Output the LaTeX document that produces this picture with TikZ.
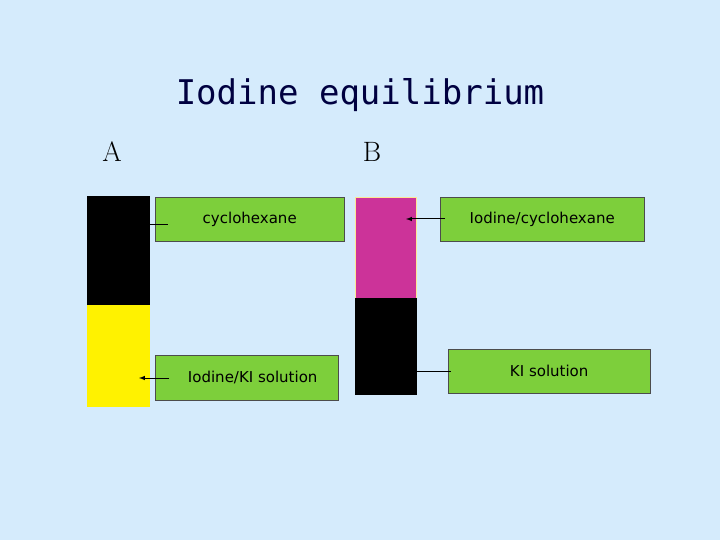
\documentclass[tikz,border=0pt]{standalone}
\usepackage{fontspec}
\newfontfamily\ttl{DejaVu Sans Mono}
\newfontfamily\lab{DejaVu Sans}
\definecolor{bg}{HTML}{D5EBFC}
\definecolor{gr}{HTML}{7DCF3B}
\definecolor{mag}{HTML}{CC3399}
\begin{document}
\begin{tikzpicture}[x=1pt,y=-1pt,
  lbl/.style={draw=black!70,fill=gr,font=\lab\fontsize{15}{17}\selectfont,inner sep=0pt},
  ln/.style={draw=black,line width=1pt}]
\fill[bg] (0,0) rectangle (720,540);
\useasboundingbox (0,0) rectangle (720,540);
\node[font=\ttl\fontsize{34}{38}\selectfont,text=black!75!blue] (title) at (360,95) {Iodine equilibrium};
\node[font=\fontsize{28}{30}\selectfont] (A) at (112,152) {A};
\node[font=\fontsize{28}{30}\selectfont] (B) at (372,152) {B};
% column A
\fill[black] (87,196) rectangle (150,305);
\fill[yellow] (87,305) rectangle (150,407);
\coordinate (a1) at (150,225);
\coordinate (a2) at (139,378);
% column B
\fill[mag,draw=yellow!60!orange!40,line width=0.8pt] (355,197) rectangle (416,298);
\fill[black] (355,298) rectangle (417,395);
\coordinate (b1) at (406,219);
\coordinate (b2) at (417,371);
% labels
\node[lbl,minimum width=189,minimum height=44,anchor=north west] (c1) at (155,197) {cyclohexane};
\node[lbl,minimum width=183,minimum height=45,anchor=north west] (c2) at (155,355) {\hspace*{12pt}Iodine/KI solution\hfill};
\node[lbl,minimum width=204,minimum height=44,anchor=north west] (c3) at (440,197) {Iodine/cyclohexane};
\node[lbl,minimum width=202,minimum height=44,anchor=north west] (c4) at (448,349) {KI solution};
\draw[ln] (a1) -- (168,225);
\draw[ln,-latex] (169,378) -- (a2);
\draw[ln,-latex] (445,219) -- (b1);
\draw[ln] (b2) -- (451,371);
\end{tikzpicture}
\end{document}
